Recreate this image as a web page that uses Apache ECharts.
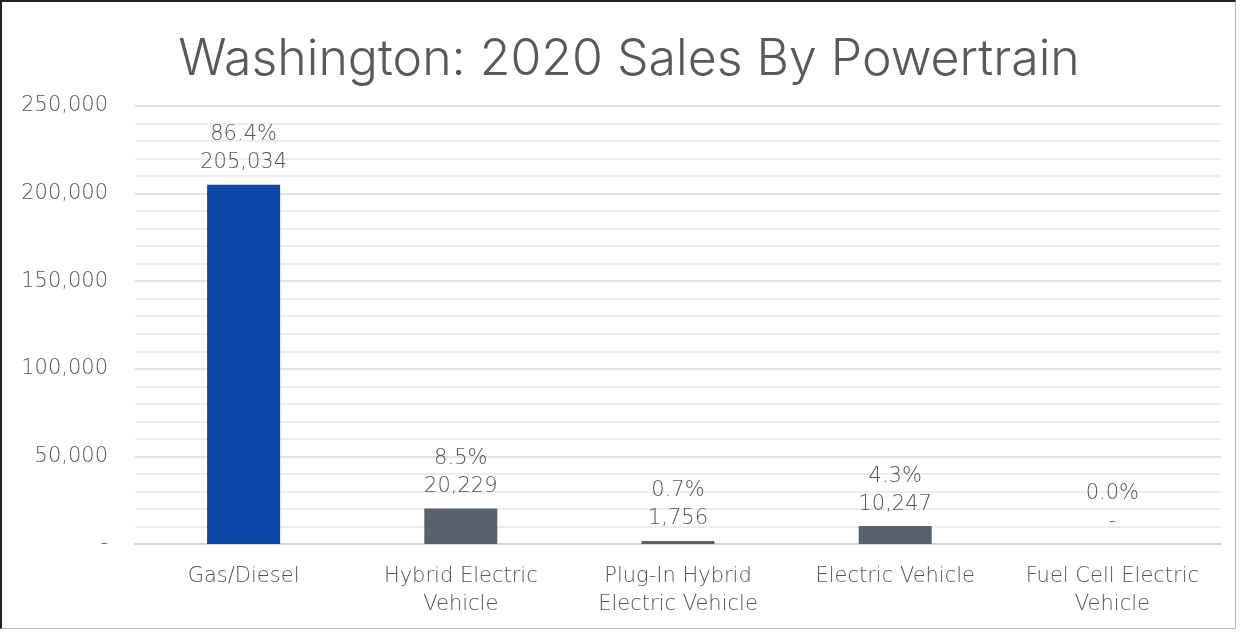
<!DOCTYPE html>
<html><head><meta charset="utf-8">
<script src="https://cdn.jsdelivr.net/npm/echarts@6/dist/echarts.min.js"></script>
<style>
html,body{margin:0;padding:0;background:#fff;}
#frame{position:absolute;left:0;top:0;width:1236px;height:629px;border-top:2px solid #222;border-left:2px solid #222;border-right:1px solid #bbb;border-bottom:1px solid #bbb;box-sizing:border-box;}
#c{position:absolute;left:0;top:0;width:1242px;height:633px;}
</style></head>
<body>
<div id="frame"></div>
<div id="c"></div>
<script>
const categories = ['Gas/Diesel', 'Hybrid Electric\nVehicle', 'Plug-In Hybrid\nElectric Vehicle', 'Electric Vehicle', 'Fuel Cell Electric\nVehicle'];
const sales = [205034, 20229, 1756, 10247, 0];
const shares = ['86.4%', '8.5%', '0.7%', '4.3%', '0.0%'];
const barColors = ['#0a47a8', '#57626c', '#57626c', '#57626c', '#57626c'];

const lblFont = '"DejaVu Sans", sans-serif';
const lblColor = '#555555';
const chart = echarts.init(document.getElementById('c'));
const fmt = v => v === 0 ? '-' : v.toLocaleString('en-US');
chart.setOption({
  animation: false,
  textStyle: {fontFamily: lblFont},
  title: {
    text: 'Washington: 2020 Sales By Powertrain',
    left: 624, top: 30, textAlign: 'center',
    textStyle: {fontSize: 50, fontWeight: 300, color: '#595959', fontFamily: 'Inter, "Noto Sans", sans-serif'}
  },
  grid: {left: 135, right: 21, top: 106, bottom: 89},
  xAxis: {
    type: 'category', data: categories,
    axisLine: {lineStyle: {color: '#d0d0d0', width: 1.5}},
    axisTick: {show: false},
    axisLabel: {color: lblColor, fontSize: 21, fontWeight: 200, fontFamily: lblFont, lineHeight: 28, margin: 19, interval: 0}
  },
  yAxis: {
    type: 'value', min: 0, max: 250000, interval: 50000,
    axisLine: {show: false}, axisTick: {show: false},
    axisLabel: {color: lblColor, fontSize: 21, fontWeight: 200, fontFamily: lblFont, margin: 27, formatter: fmt},
    splitLine: {lineStyle: {color: '#d9d9d9', width: 1.5}},
    minorTick: {show: false, splitNumber: 5},
    minorSplitLine: {show: true, lineStyle: {color: '#e8e8e8', width: 1.5}}
  },
  series: [{
    type: 'bar', barWidth: 73,
    data: sales.map((v, i) => ({value: v, itemStyle: {color: barColors[i]}})),
    label: {
      show: true, position: 'top', distance: 8,
      color: lblColor, fontSize: 21, fontWeight: 200, fontFamily: lblFont, lineHeight: 28,
      formatter: p => shares[p.dataIndex] + '\n' + fmt(p.value)
    }
  }]
});
</script>
</body></html>
